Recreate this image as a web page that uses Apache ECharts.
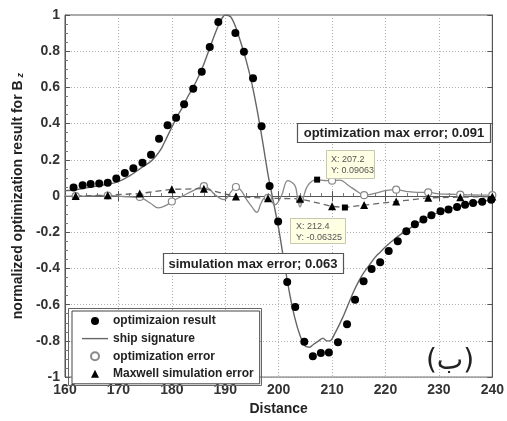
<!DOCTYPE html>
<html><head><meta charset="utf-8">
<script src="https://cdn.jsdelivr.net/npm/echarts@6/dist/echarts.min.js"></script>
<style>html,body{margin:0;padding:0;background:#fff}#c{width:507px;height:421px}</style>
</head><body><div id="c"></div>
<script>
// optimization result (filled dots)
var optX = [161.6,163.3,164.8,166.4,168.0,169.6,171.2,172.8,174.5,176.1,177.6,179.2,180.8,182.3,184.0,185.6,187.1,188.7,191.9,193.5,195.2,196.8,198.3,199.9,201.6,203.1,204.8,206.4,207.9,209.4,211.1,212.8,214.3,215.9,217.4,219.0,220.6,222.3,223.9,225.5,227.1,228.6,230.3,231.8,233.4,234.9,236.4,238.1,239.8];
var optY = [0.047,0.059,0.066,0.070,0.074,0.097,0.127,0.154,0.184,0.228,0.317,0.391,0.432,0.507,0.593,0.686,0.823,0.962,0.90,0.797,0.650,0.385,0.055,-0.141,-0.475,-0.613,-0.805,-0.885,-0.867,-0.864,-0.808,-0.708,-0.573,-0.470,-0.403,-0.366,-0.303,-0.249,-0.194,-0.156,-0.129,-0.106,-0.084,-0.074,-0.061,-0.048,-0.038,-0.031,-0.020];
// ship signature (line)
var sigX = [160,162,164,166,168,170,172,174,176,177,178,179,180,181,182,183,184,185,186,187,188,189,190,191,192,193,194,195,196,197,198,199,200,201,202,203,204,205,205.8,206.5,207.5,208.3,209,209.6,210.5,212,213,214,215,216,217,218,219,220,222,224,226,228,230,232,234,236,238,240];
var sigY = [0.03,0.035,0.045,0.055,0.065,0.08,0.11,0.15,0.19,0.22,0.26,0.32,0.38,0.44,0.49,0.55,0.6,0.66,0.73,0.81,0.89,0.96,1.0,0.99,0.93,0.84,0.74,0.62,0.47,0.3,0.12,-0.03,-0.18,-0.36,-0.53,-0.67,-0.77,-0.83,-0.835,-0.82,-0.8,-0.785,-0.8,-0.8,-0.76,-0.67,-0.6,-0.53,-0.47,-0.42,-0.38,-0.34,-0.31,-0.28,-0.23,-0.19,-0.15,-0.115,-0.09,-0.07,-0.055,-0.04,-0.03,-0.02];
// optimization error (curve + hollow markers)
var errX = [160,162,164,166,168,170,172,174,176,177.5,179,180,182,184,186,187,188,189.8,191,192,193,194,195,195.9,196.7,197.4,198,199.3,200.5,201.7,203,203.5,204,204.5,205.5,207.2,208.5,210,211.5,213,215,216,218,220,222,224,226,228,230,232,234,236,238,240];
var errY = [0.0,0.0,0.0,0.002,0.003,0.0,-0.005,-0.008,-0.04,-0.065,-0.05,-0.03,0.0,0.03,0.055,0.04,0.01,-0.02,0.02,0.05,0.03,-0.02,-0.06,-0.09,-0.04,-0.01,-0.01,-0.048,0.0,0.085,0.06,0.0,-0.06,-0.02,0.06,0.0906,0.086,0.085,0.088,0.06,0.02,0.005,0.015,0.03,0.035,0.025,0.02,0.02,0.012,0.01,0.008,0.006,0.005,0.005];
var circX = [162,168,174,180,186,192,198,204,210,216,222,228,234,240];
var circY = [0.0,0.003,-0.005,-0.03,0.055,0.05,-0.01,-0.02,0.085,0.005,0.035,0.02,0.008,0.005];
// Maxwell simulation error (dashed + triangles)
var mxX = [162,168,174,180,186,192,198,204,210,212.4,216,222,228,234,240];
var mxY = [0.0,0.005,0.014,0.037,0.041,-0.003,-0.012,-0.015,-0.057,-0.06325,-0.05,-0.03,-0.01,-0.006,-0.003];
var triX = [162,168,174,180,186,192,198,204,210,216,222,228,234,240];
var triY = [0.0,0.005,0.014,0.037,0.041,-0.003,-0.012,-0.015,-0.057,-0.05,-0.03,-0.01,-0.006,-0.003];
// data tips
var tipX = [207.2,212.4];
var tipY = [0.09063,-0.06325];
var xTicks = {min:160,max:240,interval:10};
var yTicks = {min:-1,max:1,interval:0.2};

function zip(a,b){return a.map(function(v,i){return [v,b[i]];});}
var FF = '"Liberation Sans", Arial, sans-serif';
var chart = echarts.init(document.getElementById('c'));
var gridLine = {show:true,lineStyle:{color:'#b0b0b0',type:[1,2],width:1}};
chart.setOption({
  animation:false,
  backgroundColor:'#fff',
  grid:{left:65,right:8,top:15,bottom:34,show:true,borderColor:'#555',borderWidth:1},
  xAxis:[{type:'value',min:xTicks.min,max:xTicks.max,interval:xTicks.interval,
    name:'Distance',nameLocation:'middle',nameGap:21,
    nameTextStyle:{fontFamily:FF,fontWeight:'bold',fontSize:14,color:'#222'},
    axisLine:{lineStyle:{color:'#555'}},
    axisTick:{inside:true,length:5,lineStyle:{color:'#555'}},
    minorTick:{show:true,splitNumber:5,length:3,lineStyle:{color:'#777'}},
    axisLabel:{fontFamily:FF,fontWeight:'bold',fontSize:14,color:'#333',margin:6},
    splitLine:gridLine},
   {type:'value',position:'top',min:xTicks.min,max:xTicks.max,interval:xTicks.interval,
    axisLine:{lineStyle:{color:'#555'}},axisTick:{inside:true,length:5,lineStyle:{color:'#555'}},
    axisLabel:{show:false},splitLine:{show:false}}],
  yAxis:[{type:'value',min:yTicks.min,max:yTicks.max,interval:yTicks.interval,
    name:'normalized optimization result for B{sub|z}',nameLocation:'middle',nameGap:32,nameRotate:90,
    nameTextStyle:{fontFamily:FF,fontWeight:'bold',fontSize:14,color:'#222',
      rich:{sub:{fontFamily:FF,fontWeight:'bold',fontStyle:'italic',fontSize:9,color:'#222',padding:[0,0,0,3],verticalAlign:'bottom'}}},
    axisLine:{lineStyle:{color:'#555'}},
    axisTick:{inside:true,length:5,lineStyle:{color:'#555'}},
    minorTick:{show:true,splitNumber:4,length:3,lineStyle:{color:'#777'}},
    axisLabel:{fontFamily:FF,fontWeight:'bold',fontSize:14,color:'#333',margin:5},
    splitLine:gridLine},
   {type:'value',position:'right',min:yTicks.min,max:yTicks.max,interval:yTicks.interval,
    axisLine:{lineStyle:{color:'#555'}},axisTick:{inside:true,length:5,lineStyle:{color:'#555'}},
    axisLabel:{show:false},splitLine:{show:false}}],
  legend:{orient:'vertical',left:72,top:311,itemWidth:26,itemHeight:8,itemGap:3.6,
    padding:[3,6,3,10],backgroundColor:'#fff',borderColor:'#444',borderWidth:1,
    textStyle:{fontFamily:FF,fontWeight:'bold',fontSize:12,color:'#222',lineHeight:14},
    data:[
      {name:'optimizaion result',icon:'circle'},
      {name:'ship signature',icon:'path://M0,0 L26,0 L26,1.4 L0,1.4 Z',itemStyle:{color:'#666'}},
      {name:'optimization error',icon:'circle'},
      {name:'Maxwell simulation error',icon:'path://M4,0 L8,8 L0,8 Z'}
    ]},
  series:[
    {name:'ship signature',type:'line',data:zip(sigX,sigY),symbol:'none',smooth:0.3,
      lineStyle:{color:'#666',width:1.4},itemStyle:{color:'#666'},z:2},
    {name:'opt err curve',type:'line',data:zip(errX,errY),symbol:'none',smooth:0.4,
      lineStyle:{color:'#888',width:1.3},z:2},
    {name:'mx curve',type:'line',data:zip(mxX,mxY),symbol:'none',
      lineStyle:{color:'#666',width:1.3,type:[6,4]},z:2},
    {name:'optimization error',type:'scatter',data:zip(circX,circY),symbol:'circle',symbolSize:7,
      itemStyle:{color:'#fff',borderColor:'#888',borderWidth:1.2,opacity:1},z:3},
    {name:'Maxwell simulation error',type:'scatter',data:zip(triX,triY),symbol:'triangle',symbolSize:8,
      itemStyle:{color:'#000',opacity:1},z:4},
    {name:'optimizaion result',type:'scatter',data:zip(optX,optY),symbol:'circle',symbolSize:8,
      itemStyle:{color:'#000',opacity:1},z:4},
    {name:'tips',type:'scatter',data:zip(tipX,tipY),symbol:'rect',symbolSize:6,
      itemStyle:{color:'#000',opacity:1},z:5}
  ],
  graphic:[
    {type:'rect',shape:{x:68.5,y:308.5,width:193,height:77},style:{fill:null,stroke:'#666',lineWidth:1},z:10},
    {type:'rect',shape:{x:297.5,y:123.5,width:193,height:19},style:{fill:'#fff',stroke:'#555',lineWidth:1.2},z:10},
    {type:'text',x:394,y:133,style:{text:'optimization max error; 0.091',font:'bold 13px '+FF,fill:'#222',align:'center',verticalAlign:'middle'},z:11},
    {type:'rect',shape:{x:163.5,y:253.5,width:180,height:20},style:{fill:'#fff',stroke:'#555',lineWidth:1.2},z:10},
    {type:'text',x:253,y:264,style:{text:'simulation max error; 0.063',font:'bold 13px '+FF,fill:'#222',align:'center',verticalAlign:'middle'},z:11},
    {type:'rect',shape:{x:326.5,y:150.5,width:48,height:28},style:{fill:'#ffffe4',stroke:'#c8c8b0',lineWidth:1},z:10},
    {type:'text',x:331,y:154,style:{text:'X: 207.2\nY: 0.09063',font:'9px '+FF,fill:'#555',lineHeight:11},z:11},
    {type:'rect',shape:{x:290.5,y:218.5,width:55,height:25},style:{fill:'#ffffe4',stroke:'#c8c8b0',lineWidth:1},z:10},
    {type:'text',x:296,y:221,style:{text:'X: 212.4\nY: -0.06325',font:'9px '+FF,fill:'#555',lineHeight:11},z:11},
    {type:'text',x:450,y:362,style:{text:'(ب)',font:'28px "DejaVu Sans", sans-serif',fill:'#222',align:'center',verticalAlign:'middle'},z:11}
  ]
});
</script></body></html>
